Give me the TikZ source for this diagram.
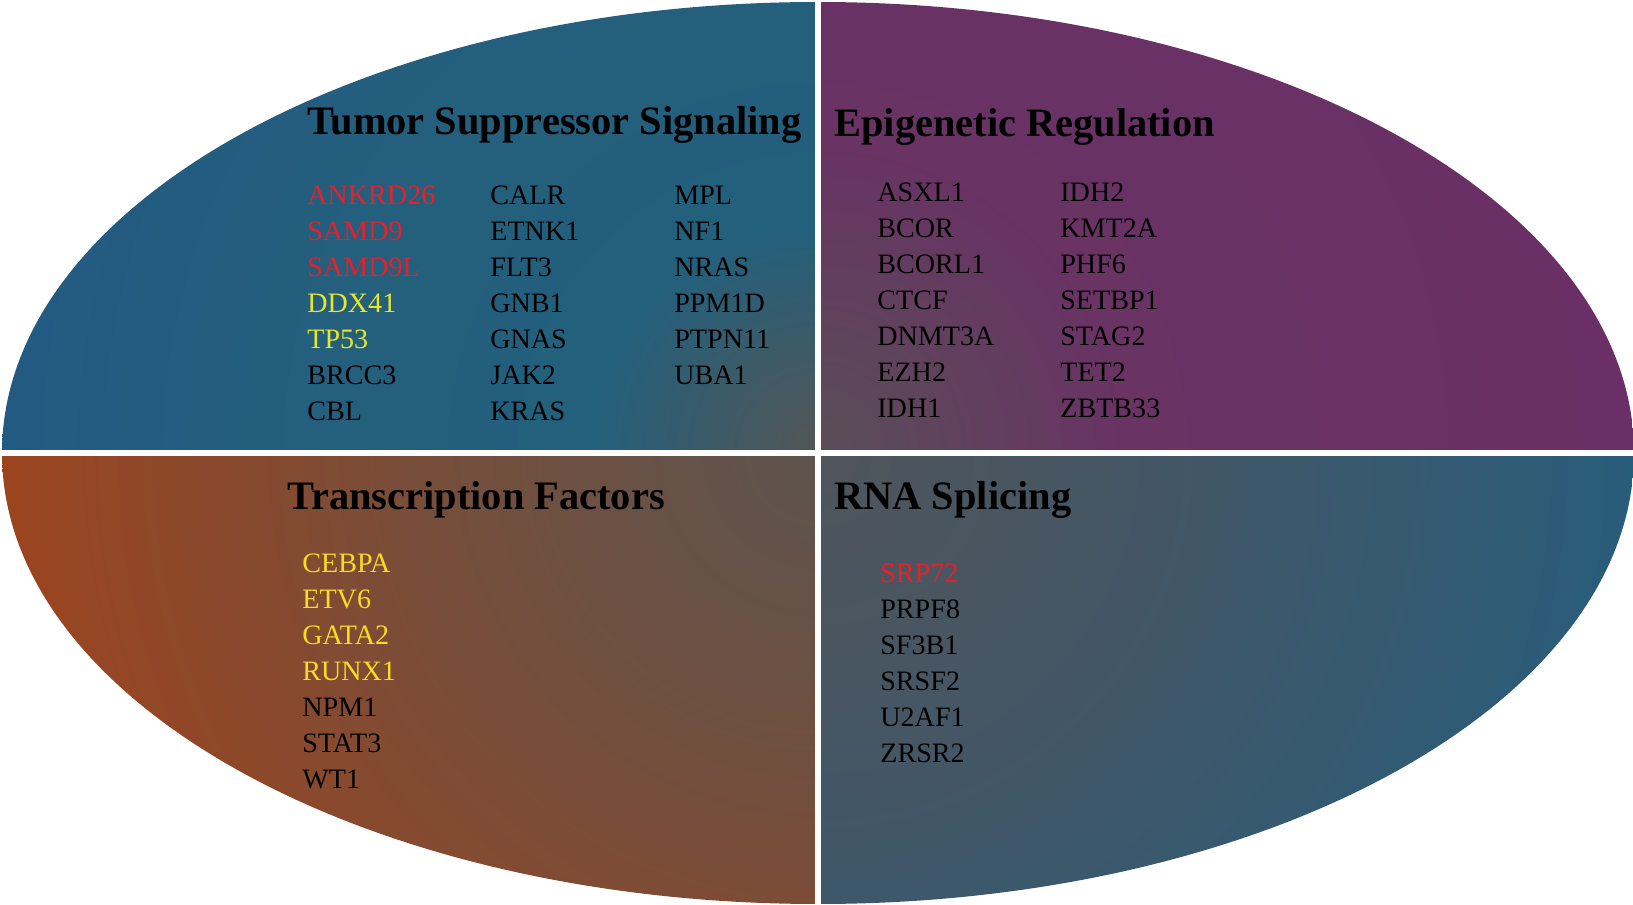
\documentclass[tikz,border=0pt]{standalone}
\usepackage{fontspec}
\setmainfont{Liberation Serif}
\definecolor{genered}{HTML}{E8202A}
\definecolor{geneyel}{HTML}{E6E62C}
\definecolor{geneorg}{HTML}{F8DC24}
\pgfdeclareradialshading{tssrad}{\pgfpoint{0bp}{0bp}}{%
  color(0bp)=(rgb:red,0.84;green,0.86;blue,0.86); color(6bp)=(rgb:red,0.25;green,0.68;blue,0.88);
  color(14bp)=(rgb:red,0.25;green,0.66;blue,0.87); color(25bp)=(rgb:red,0.18;green,0.45;blue,0.68)}
\pgfdeclareradialshading{epirad}{\pgfpoint{0bp}{0bp}}{%
  color(0bp)=(rgb:red,0.96;green,0.85;blue,0.95); color(8bp)=(rgb:red,0.82;green,0.40;blue,0.78);
  color(25bp)=(rgb:red,0.60;green,0.26;blue,0.58)}
\pgfdeclareradialshading{tfrad}{\pgfpoint{0bp}{0bp}}{%
  color(0bp)=(rgb:red,0.98;green,0.88;blue,0.82); color(9bp)=(rgb:red,0.93;green,0.64;blue,0.50);
  color(25bp)=(rgb:red,0.74;green,0.29;blue,0.10)}
\pgfdeclareradialshading{rnarad}{\pgfpoint{0bp}{0bp}}{%
  color(0bp)=(rgb:red,0.84;green,0.91;blue,0.97); color(8bp)=(rgb:red,0.64;green,0.79;blue,0.92);
  color(25bp)=(rgb:red,0.11;green,0.31;blue,0.42)}
\tikzset{%
title/.style={anchor=west, font=\fontsize{23}{26}\selectfont\bfseries, inner sep=0pt},
gene/.style={anchor=west, font=\fontsize{16}{18}\selectfont, inner sep=0pt},
gap/.style={white, line width=0.13cm},
}
\begin{document}
\begin{tikzpicture}[x=0.02cm, y=-0.02cm]
\useasboundingbox (0,0) rectangle (1633,905);
% quadrants
\begin{scope}
\clip (818,453) ellipse [x radius=816, y radius=451];
\begin{scope}
\clip (0,0) rectangle (818,453);
\shade[shading=tssrad] (818,453) circle [radius=950];
\end{scope}
\begin{scope}
\clip (818,0) rectangle (1633,453);
\shade[shading=epirad] (818,453) circle [radius=950];
\end{scope}
\begin{scope}
\clip (0,453) rectangle (818,905);
\shade[shading=tfrad] (818,453) circle [radius=950];
\end{scope}
\begin{scope}
\clip (818,453) rectangle (1633,905);
\shade[shading=rnarad] (818,453) circle [radius=950];
\end{scope}
\end{scope}
\draw[gap] (818,0) -- (818,905);
\draw[gap] (0,453) -- (1633,453);
% titles
\node[title] (tss) at (307,125) {Tumor Suppressor Signaling};
\node[title] (epi) at (834,127) {Epigenetic Regulation};
\node[title] (tf) at (287,500) {Transcription Factors};
\node[title] (rna) at (834,500) {RNA Splicing};
% tumor suppressor signaling
\foreach \g/\c [count=\i] in {ANKRD26/genered, SAMD9/genered, SAMD9L/genered, DDX41/geneyel, TP53/geneyel, BRCC3/black, CBL/black}
  \node[gene, text=\c] (tss-a\i) at (307,{159+36*\i}) {\g};
\foreach \g [count=\i] in {CALR, ETNK1, FLT3, GNB1, GNAS, JAK2, KRAS}
  \node[gene] (tss-b\i) at (490,{159+36*\i}) {\g};
\foreach \g [count=\i] in {MPL, NF1, NRAS, PPM1D, PTPN11, UBA1}
  \node[gene] (tss-c\i) at (674,{159+36*\i}) {\g};
% epigenetic regulation
\foreach \g [count=\i] in {ASXL1, BCOR, BCORL1, CTCF, DNMT3A, EZH2, IDH1}
  \node[gene] (epi-a\i) at (877,{156+36*\i}) {\g};
\foreach \g [count=\i] in {IDH2, KMT2A, PHF6, SETBP1, STAG2, TET2, ZBTB33}
  \node[gene] (epi-b\i) at (1060,{156+36*\i}) {\g};
% transcription factors
\foreach \g/\c [count=\i] in {CEBPA/geneorg, ETV6/geneorg, GATA2/geneorg, RUNX1/geneorg, NPM1/black, STAT3/black, WT1/black}
  \node[gene, text=\c] (tf-\i) at (302,{527+36*\i}) {\g};
% rna splicing
\foreach \g/\c [count=\i] in {SRP72/genered, PRPF8/black, SF3B1/black, SRSF2/black, U2AF1/black, ZRSR2/black}
  \node[gene, text=\c] (rna-\i) at (880,{537+36*\i}) {\g};
\end{tikzpicture}
\end{document}
